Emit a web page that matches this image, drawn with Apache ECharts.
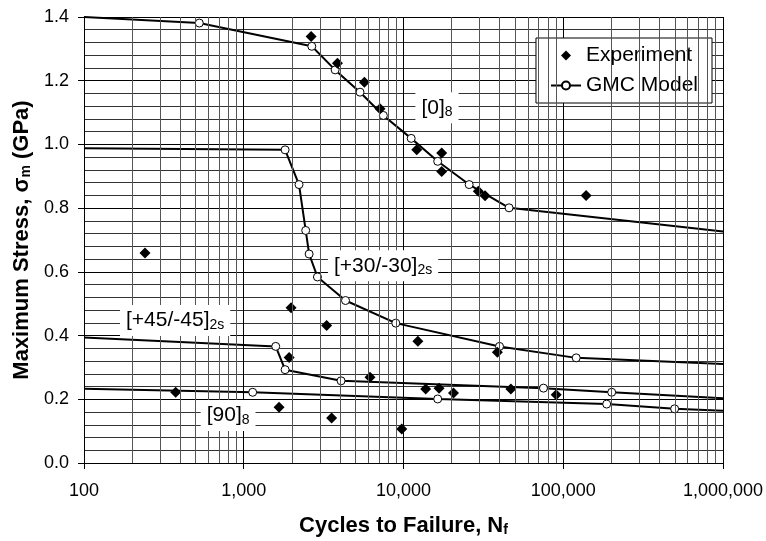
<!DOCTYPE html>
<html lang="en">

<head>
  <meta charset="UTF-8">
  <title>Fatigue chart</title>
  <style>
    html, body { margin: 0; padding: 0; background: #fff; }
  </style>
</head>

<body>
  <div class="main" style="width: 766px;height:541px;"></div>

  <script src="https://cdn.jsdelivr.net/npm/echarts@6/dist/echarts.min.js"></script>
  <script>
    var myChart = echarts.init(document.querySelector('.main'));
    const font = 'Liberation Sans, Arial, sans-serif'

    // GMC model curves, [cycles, stress GPa]
    const modelZero = [[100, 1.40], [527, 1.381], [2667, 1.308], [3733, 1.234], [5345, 1.164], [7480, 1.091], [11170, 1.019], [16370, 0.947], [25760, 0.874], [45800, 0.801], [1000000, 0.727]]
    const modelThirty = [[100, 0.988], [1815, 0.983], [2218, 0.874], [2442, 0.730], [2566, 0.656], [2893, 0.584], [4335, 0.510], [8950, 0.439], [39900, 0.366], [120500, 0.330], [1000000, 0.311]]
    const modelFortyFive = [[100, 0.394], [1585, 0.366], [1815, 0.293], [4065, 0.258], [75200, 0.235], [201000, 0.222], [1000000, 0.203]]
    const modelNinety = [[100, 0.233], [1137, 0.222], [16370, 0.201], [187000, 0.185], [498000, 0.170], [1000000, 0.164]]

    // experiment points
    const experiment = [
      [241, 0.659],
      [2640, 1.339], [3860, 1.255], [5690, 1.195], [7130, 1.112], [12100, 0.983], [17340, 0.973], [17340, 0.915], [29400, 0.853], [32400, 0.839], [139000, 0.840],
      [1977, 0.487], [3303, 0.432], [12300, 0.382], [38700, 0.348],
      [375, 0.222], [1664, 0.175], [1923, 0.331], [3548, 0.141], [6170, 0.269], [9750, 0.107], [13770, 0.232], [16700, 0.235], [20560, 0.220], [47000, 0.232], [90300, 0.214]
    ]

    // layup labels
    const labelText = ['[0]{s|8}', '[+30/-30]{s|2s}', '[+45/-45]{s|2s}', '[90]{s|8}']
    const labelPos = [[16200, 1.115], [7450, 0.619], [372, 0.447], [798, 0.149]]

    // log grid lines 2..9 in each decade
    const minorX = []
    for (let d = 100; d < 1000000; d *= 10) {
      for (let k = 2; k <= 9; k++) minorX.push(d * k)
    }

    // no marker on the extension ends of each curve
    const modelData = (arr) => arr.map((p, i) => (i === 0 || i === arr.length - 1) ? { value: p, symbol: 'none' } : p)

    const modelSeries = (arr) => ({
      name: 'GMC Model',
      type: 'line',
      data: modelData(arr),
      symbol: 'circle',
      symbolSize: 8,
      showAllSymbol: true,
      z: 3,
      lineStyle: { color: '#000', width: 2 },
      itemStyle: { color: '#fff', borderColor: '#000', borderWidth: 1 }
    })

    const subStyle = { s: { fontSize: 14, fontWeight: 'bold', verticalAlign: 'bottom', padding: [9, 0, 0, 0] } }

    var option = {
      animation: false,
      textStyle: { fontFamily: font, color: '#000' },
      grid: { left: 84, right: 43, top: 17, bottom: 78, containLabel: false, outerBoundsMode: 'none' },
      legend: {
        data: [
          { name: 'Experiment', icon: 'path://M0,-1L1,0L0,1L-1,0Z' },
          { name: 'GMC Model' }
        ],
        orient: 'vertical',
        right: 54,
        top: 38,
        padding: [7, 14, 7, 14],
        itemGap: 9,
        itemWidth: 30,
        itemHeight: 10,
        backgroundColor: '#fff',
        borderColor: '#000',
        borderWidth: 1,
        borderRadius: 0,
        textStyle: { fontSize: 21, color: '#000', fontFamily: font }
      },
      xAxis: {
        type: 'log',
        logBase: 10,
        min: 100,
        max: 1000000,
        name: 'Cycles to Failure, N{s|f}',
        nameLocation: 'middle',
        nameGap: 51,
        nameTextStyle: {
          fontSize: 22, fontWeight: 'bold', color: '#000', fontFamily: font,
          rich: subStyle
        },
        axisLine: { lineStyle: { color: '#000', width: 1 } },
        axisTick: { show: true, length: 6, lineStyle: { color: '#000' } },
        axisLabel: {
          fontSize: 18, color: '#000', margin: 19,
          formatter: v => Number(v).toLocaleString('en-US')
        },
        splitLine: { show: true, lineStyle: { color: '#000', width: 1 } }
      },
      yAxis: {
        type: 'value',
        min: 0,
        max: 1.4,
        interval: 0.2,
        name: 'Maximum Stress, σ{s|m} (GPa)',
        nameLocation: 'middle',
        nameRotate: 90,
        nameGap: 50,
        nameTextStyle: {
          fontSize: 22, fontWeight: 'bold', color: '#000', fontFamily: font,
          rich: subStyle
        },
        axisLine: { show: true, lineStyle: { color: '#000', width: 1 } },
        axisTick: { show: true, length: 6, lineStyle: { color: '#000' } },
        axisLabel: { fontSize: 18, color: '#000', margin: 15, formatter: v => v.toFixed(1) },
        splitLine: { show: true, lineStyle: { color: '#000', width: 1 } },
        minorTick: { show: false, splitNumber: 5 },
        minorSplitLine: { show: true, lineStyle: { color: '#333', width: 1 } }
      },
      series: [
        {
          // vertical minor grid
          type: 'line',
          data: [],
          z: 1,
          silent: true,
          markLine: {
            silent: true,
            symbol: ['none', 'none'],
            label: { show: false },
            lineStyle: { color: '#555', width: 1, type: 'solid' },
            data: minorX.map(v => ({ xAxis: v }))
          }
        },
        {
          name: 'Experiment',
          type: 'scatter',
          data: experiment,
          symbol: 'diamond',
          symbolSize: 11,
          z: 4,
          itemStyle: { color: '#000', opacity: 1 }
        },
        modelSeries(modelZero),
        modelSeries(modelThirty),
        modelSeries(modelFortyFive),
        modelSeries(modelNinety),
        {
          type: 'scatter',
          data: labelPos.map((p, i) => ({ value: p, name: labelText[i] })),
          symbolSize: 1,
          z: 5,
          silent: true,
          itemStyle: { color: 'transparent', opacity: 1 },
          label: {
            show: true,
            position: 'inside',
            formatter: p => p.name,
            color: '#000',
            opacity: 1,
            fontSize: 21,
            fontFamily: font,
            backgroundColor: '#fff',
            padding: [4, 6, 4, 6],
            rich: { s: { fontSize: 14, color: '#000', verticalAlign: 'bottom', padding: [9, 0, 0, 0] } }
          }
        }
      ]
    };

    myChart.setOption(option);
  </script>
</body>

</html>
